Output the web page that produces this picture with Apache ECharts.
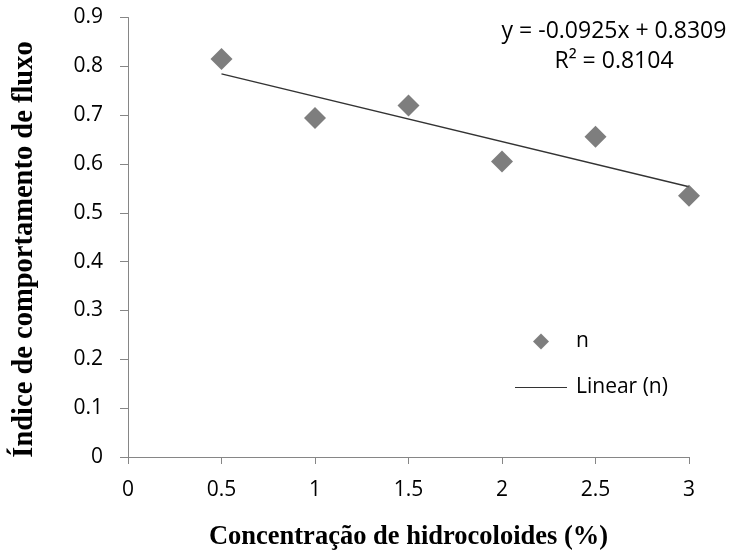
<!DOCTYPE html>
<html>
<head>
<meta charset="utf-8">
<script src="https://cdn.jsdelivr.net/npm/echarts@6/dist/echarts.min.js"></script>
<style>html,body{margin:0;padding:0;background:#fff}#c{width:735px;height:558px}</style>
</head>
<body>
<div id="c"></div>
<script>
// Data
var concentrations = [0.5, 1, 1.5, 2, 2.5, 3];
var nValues = [0.815, 0.694, 0.720, 0.605, 0.656, 0.535];
var trendX = [0.5, 3];
var trendY = [0.7847, 0.5534];
var equationText = 'y = -0.0925x + 0.8309';
var r2Text = 'R\u00b2 = 0.8104';
var xTitle = 'Concentração de hidrocoloides (%)';
var yTitle = 'Índice de comportamento de fluxo';
var seriesName = 'n';
var trendName = 'Linear (n)';

var chart = echarts.init(document.getElementById('c'), null, {renderer: 'canvas'});
var axisColor = '#868686';
var labelFont = 'Open Sans';
var titleFont = 'Liberation Serif';

var scatterData = concentrations.map(function (x, i) { return [x, nValues[i]]; });
var trendData = trendX.map(function (x, i) { return [x, trendY[i]]; });

chart.setOption({
  animation: false,
  backgroundColor: '#fff',
  grid: {left: 128, right: 46, top: 17.5, bottom: 101, containLabel: false},
  xAxis: {
    type: 'value', min: 0, max: 3, interval: 0.5,
    name: xTitle, nameLocation: 'middle', nameGap: 67,
    nameTextStyle: {fontFamily: titleFont, fontWeight: 'bold', fontSize: 26.5, color: '#000'},
    axisLine: {show: true, onZero: false, lineStyle: {color: axisColor, width: 1}},
    axisTick: {show: true, inside: false, length: 7, lineStyle: {color: axisColor}},
    axisLabel: {margin: 23, fontFamily: labelFont, fontSize: 21, color: '#000'},
    splitLine: {show: false}
  },
  yAxis: {
    type: 'value', min: 0, max: 0.9, interval: 0.1,
    axisLine: {show: true, onZero: false, lineStyle: {color: axisColor, width: 1}},
    axisTick: {show: true, inside: false, length: 8, lineStyle: {color: axisColor}},
    axisLabel: {margin: 25, fontFamily: labelFont, fontSize: 21, color: '#000'},
    splitLine: {show: false}
  },
  legend: [
    {
      orient: 'vertical', left: 533, top: 331, padding: 0,
      data: [{name: seriesName, icon: 'diamond'}],
      itemWidth: 16, itemHeight: 16,
      textStyle: {fontFamily: labelFont, fontSize: 21, color: '#000', padding: [0, 0, 0, 22]}
    },
    {
      orient: 'vertical', left: 515, top: 377, padding: 0,
      data: [{name: trendName, icon: 'path://M0 0 H100 V2 H0 Z'}],
      itemWidth: 52, itemHeight: 1.5,
      textStyle: {fontFamily: labelFont, fontSize: 21, color: '#000', padding: [0, 0, 0, 4]}
    }
  ],
  graphic: [
    {
      type: 'text', x: 614, y: 31,
      style: {text: equationText, fontFamily: labelFont, fontSize: 23, fill: '#000', align: 'center', verticalAlign: 'middle'}
    },
    {
      type: 'text', x: 614, y: 61,
      style: {text: r2Text, fontFamily: labelFont, fontSize: 23, fill: '#000', align: 'center', verticalAlign: 'middle'}
    },
    {
      type: 'text', x: 25, y: 249.5, rotation: Math.PI / 2,
      style: {text: yTitle, fontFamily: titleFont, fontWeight: 'bold', fontSize: 28.5, fill: '#000', align: 'center', verticalAlign: 'middle'}
    }
  ],
  series: [
    {
      name: trendName, type: 'line', data: trendData,
      symbol: 'none', showSymbol: false,
      lineStyle: {color: '#333333', width: 1.3},
      itemStyle: {color: '#333333'},
      z: 2
    },
    {
      name: seriesName, type: 'scatter', data: scatterData,
      symbol: 'diamond', symbolSize: 22,
      itemStyle: {color: '#5e5e5e'},
      z: 3
    }
  ]
});
</script>
</body>
</html>
